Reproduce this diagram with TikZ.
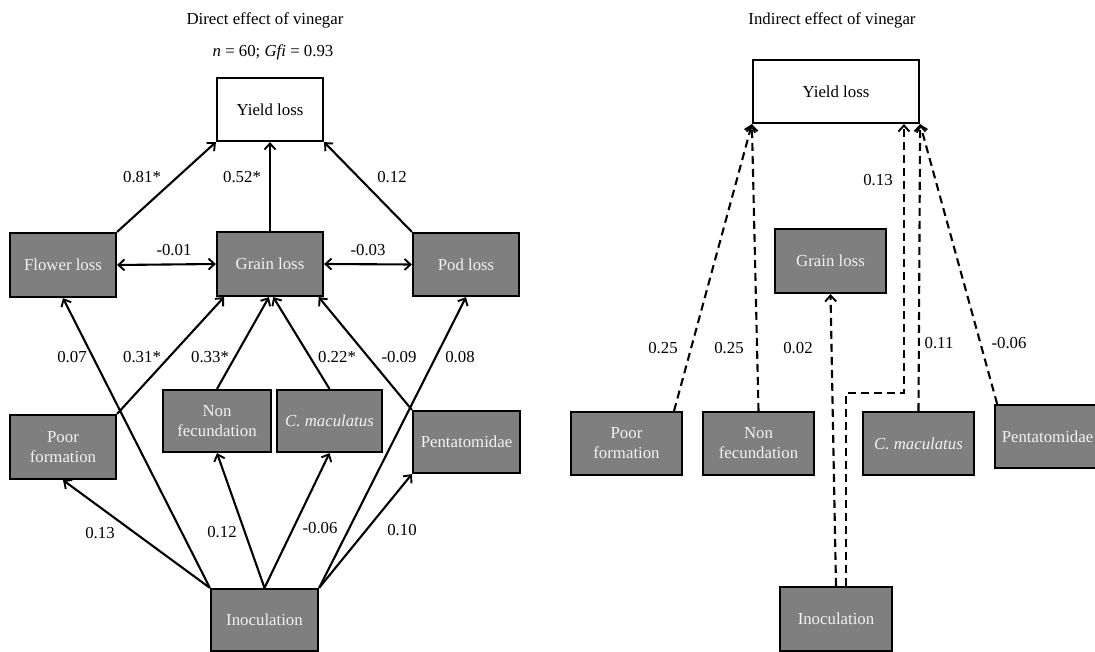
\documentclass[tikz,border=0pt]{standalone}
\usepackage{fontspec}
\setmainfont{Liberation Serif}
\usetikzlibrary{arrows.meta,calc}
\definecolor{boxgray}{HTML}{7F7F7F}
\definecolor{boxtext}{HTML}{F2F2F2}
\tikzset{
 box/.style={draw=black, line width=2.2pt, fill=boxgray, text=boxtext, align=center, inner sep=0pt, font=\fontsize{16.8}{20}\selectfont},
 whitebox/.style={box, fill=white, text=black},
 lbl/.style={font=\fontsize{16.8}{20}\selectfont, inner sep=0pt, text=black},
 tip/.style={},
 conn/.style={line width=2.1pt, -{Straight Barb[length=6pt,width=11pt,line width=1.9pt]}},
 dconn/.style={conn, dash pattern=on 8pt off 5pt},
 twoway/.style={line width=2.1pt, {Straight Barb[length=6pt,width=11pt,line width=1.9pt]}-{Straight Barb[length=6pt,width=11pt,line width=1.9pt]}},
}
\begin{document}
\begin{tikzpicture}[x=1pt,y=-1pt]
\useasboundingbox (0,0) rectangle (1095,652);
% ---------------- titles
\node[lbl] (t1) at (265,20) {Direct effect of vinegar};
\node[lbl] (t2) at (273,52) {\textit{n} = 60; \textit{Gfi} = 0.93};
\node[lbl] (t3) at (832,20) {Indirect effect of vinegar};
% ---------------- left panel boxes
\node[whitebox, minimum width=106pt, minimum height=63pt] (yieldL) at (270,109.5) {Yield loss};
\node[box, minimum width=106pt, minimum height=64pt] (flowerL) at (63,265) {Flower loss};
\node[box, minimum width=106pt, minimum height=64pt] (grainL) at (270,264) {Grain loss};
\node[box, minimum width=106pt, minimum height=63pt] (podL) at (466,264.5) {Pod loss};
\node[box, minimum width=106pt, minimum height=64pt] (poorL) at (63,447) {Poor\\formation};
\node[box, minimum width=108pt, minimum height=62pt] (nonfL) at (217,421) {Non\\fecundation};
\node[box, minimum width=105pt, minimum height=62pt] (cmacL) at (329.5,421) {\textit{C. maculatus}};
\node[box, minimum width=107pt, minimum height=62pt] (pentL) at (466.5,442) {Pentatomidae};
\node[box, minimum width=107pt, minimum height=62pt] (inocL) at (264.5,620) {Inoculation};
% ---------------- left connectors
\draw[conn] (flowerL.north east) -- (yieldL.south west);
\draw[conn] (grainL.north) -- (yieldL.south);
\draw[conn] (podL.north west) -- (yieldL.south east);
\draw[twoway] (flowerL.east) -- (grainL.west);
\draw[twoway] (grainL.east) -- (podL.west);
\draw[conn] (inocL.north west) -- (flowerL.south);
\draw[conn] (poorL.north east) -- ($(grainL.south west)!0.075!(grainL.south east)$);
\draw[conn] (nonfL.north) -- ($(grainL.south west)!0.49!(grainL.south east)$);
\draw[conn] (cmacL.north) -- ($(grainL.south west)!0.53!(grainL.south east)$);
\draw[conn] (pentL.north west) -- ($(grainL.south west)!0.95!(grainL.south east)$);
\draw[conn] (inocL.north east) -- (podL.south);
\draw[conn] (inocL.north west) -- (poorL.south);
\draw[conn] (inocL.north) -- (nonfL.south);
\draw[conn] (inocL.north) -- (cmacL.south);
\draw[conn] (inocL.north east) -- (pentL.south west);
% ---------------- left labels
\node[lbl] (a1) at (142,177) {0.81*};
\node[lbl] (a2) at (242,177) {0.52*};
\node[lbl] (a3) at (392,177) {0.12};
\node[lbl] (a4) at (174,250) {-0.01};
\node[lbl] (a5) at (368,250) {-0.03};
\node[lbl] (a6) at (72,357) {0.07};
\node[lbl] (a7) at (142,357) {0.31*};
\node[lbl] (a8) at (210,357) {0.33*};
\node[lbl] (a9) at (337,357) {0.22*};
\node[lbl] (a10) at (399,357) {-0.09};
\node[lbl] (a11) at (460,357) {0.08};
\node[lbl] (a12) at (100,533) {0.13};
\node[lbl] (a13) at (222,532) {0.12};
\node[lbl] (a14) at (320,528) {-0.06};
\node[lbl] (a15) at (402,530) {0.10};
% ---------------- right panel boxes
\node[whitebox, minimum width=166pt, minimum height=63pt] (yieldR) at (836,91.5) {Yield loss};
\node[box, minimum width=111pt, minimum height=64pt] (grainR) at (830.5,261) {Grain loss};
\node[box, minimum width=111pt, minimum height=63pt] (poorR) at (626.5,443.5) {Poor\\formation};
\node[box, minimum width=111pt, minimum height=63pt] (nonfR) at (758.5,443.5) {Non\\fecundation};
\node[box, minimum width=111pt, minimum height=63pt] (cmacR) at (918.5,443.5) {\textit{C. maculatus}};
\node[box, minimum width=105pt, minimum height=63pt] (pentR) at (1047.5,436.5) {Pentatomidae};
\node[box, minimum width=112pt, minimum height=64pt] (inocR) at (836,619) {Inoculation};
% ---------------- right connectors
\coordinate (inocRa) at ($(inocR.north west)!0.59!(inocR.north east)$);
\coordinate (yieldRa) at ($(yieldR.south west)!0.904!(yieldR.south east)$);
\draw[dconn] ($(poorR.north west)!0.92!(poorR.north east)$) -- (yieldR.south west);
\draw[dconn] (nonfR.north) -- (yieldR.south west);
\draw[dconn] (inocRa) -- ++(0,-193) -| (yieldRa);
\draw[dconn] (inocR.north) -- (grainR.south);
\draw[dconn] (cmacR.north) -- (yieldR.south east);
\draw[dconn] ($(pentR.north west)!0.03!(pentR.north east)$) -- (yieldR.south east);
% ---------------- right labels
\node[lbl] (b1) at (878,180) {0.13};
\node[lbl] (b2) at (663,348) {0.25};
\node[lbl] (b3) at (729,348) {0.25};
\node[lbl] (b4) at (798,348) {0.02};
\node[lbl] (b5) at (939,343) {0.11};
\node[lbl] (b6) at (1009,343) {-0.06};
\end{tikzpicture}
\end{document}
